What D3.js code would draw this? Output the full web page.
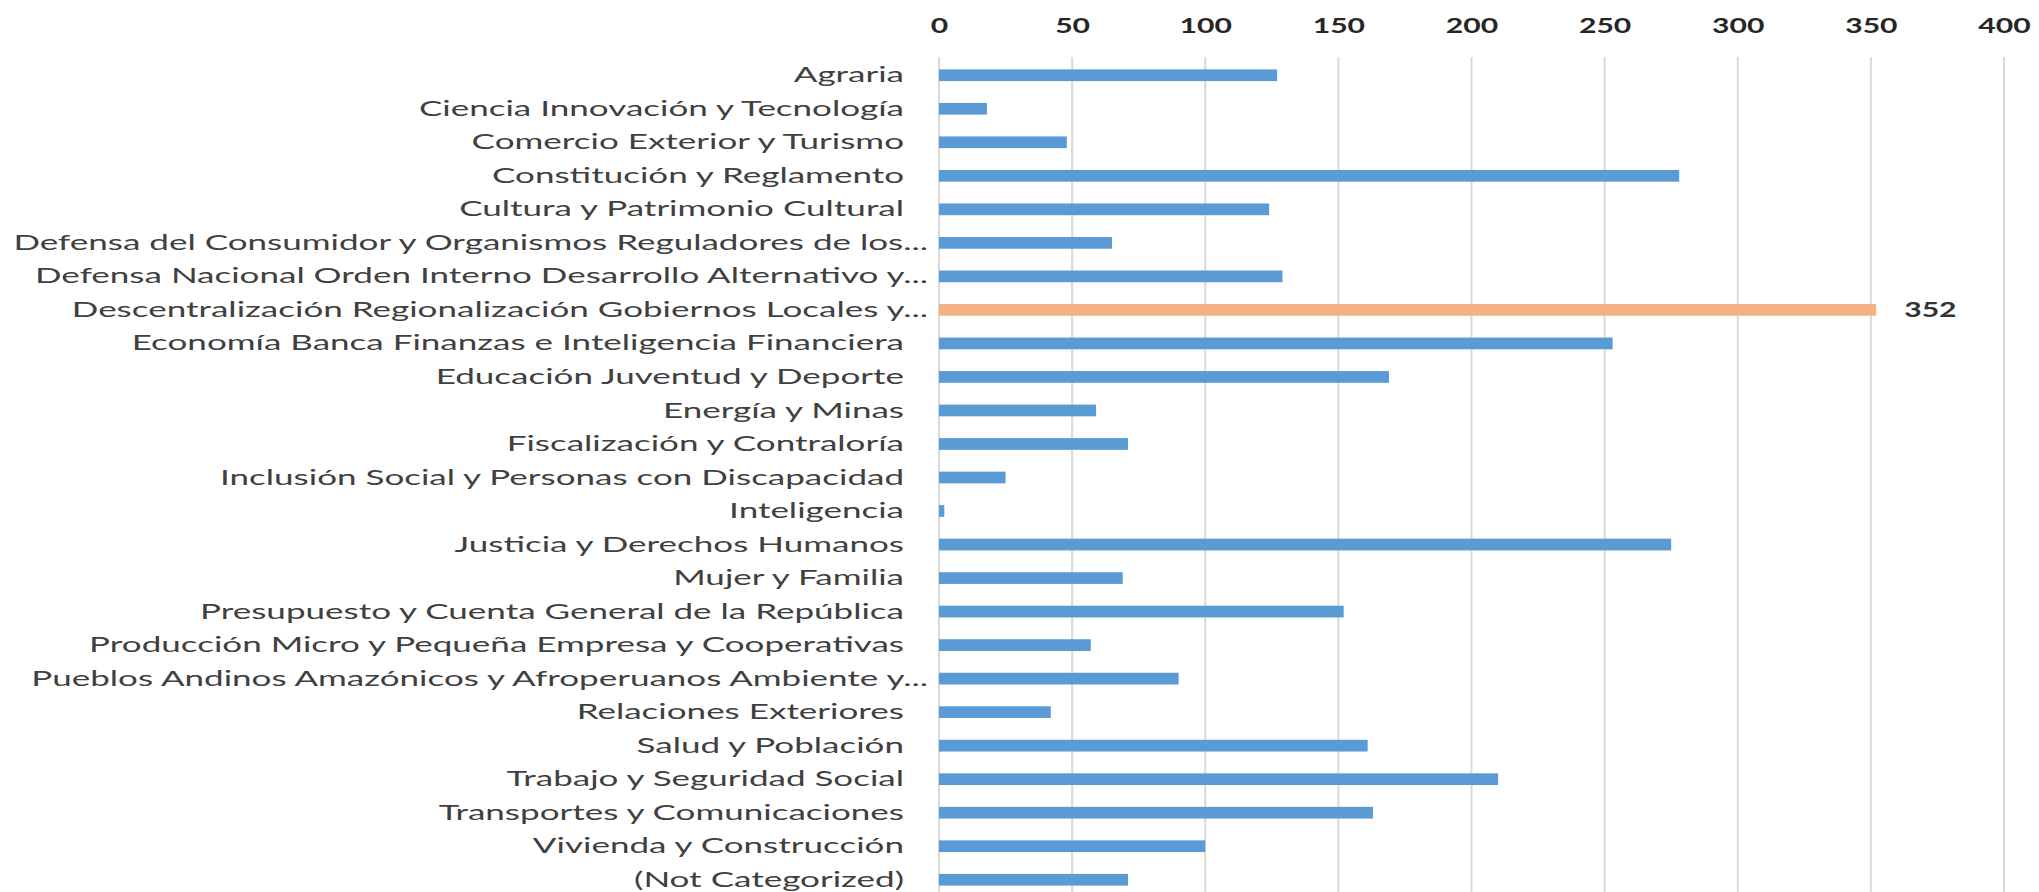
<!DOCTYPE html>
<html>
<head>
<meta charset="utf-8">
<script src="https://cdn.jsdelivr.net/npm/d3@7"></script>
<style>
  html, body { margin: 0; padding: 0; background: #fff; }
  svg { display: block; }
</style>
</head>
<body>
<div id="chart"></div>
<script>
const categories = [
  'Agraria',
  'Ciencia Innovación y Tecnología',
  'Comercio Exterior y Turismo',
  'Constitución y Reglamento',
  'Cultura y Patrimonio Cultural',
  'Defensa del Consumidor y Organismos Reguladores de los...',
  'Defensa Nacional Orden Interno Desarrollo Alternativo y...',
  'Descentralización Regionalización Gobiernos Locales y...',
  'Economía Banca Finanzas e Inteligencia Financiera',
  'Educación Juventud y Deporte',
  'Energía y Minas',
  'Fiscalización y Contraloría',
  'Inclusión Social y Personas con Discapacidad',
  'Inteligencia',
  'Justicia y Derechos Humanos',
  'Mujer y Familia',
  'Presupuesto y Cuenta General de la República',
  'Producción Micro y Pequeña Empresa y Cooperativas',
  'Pueblos Andinos Amazónicos y Afroperuanos Ambiente y...',
  'Relaciones Exteriores',
  'Salud y Población',
  'Trabajo y Seguridad Social',
  'Transportes y Comunicaciones',
  'Vivienda y Construcción',
  '(Not Categorized)'
];
const values = [127, 18, 48, 278, 124, 65, 129, 352, 253, 169, 59, 71, 25, 2, 275, 69, 152, 57, 90, 42, 161, 210, 163, 100, 71];
const highlighted = ['Descentralización Regionalización Gobiernos Locales y...'];
const xTicks = [0, 50, 100, 150, 200, 250, 300, 350, 400];

const width = 2039;
const height = 892;

const data = categories.map((c, i) => ({ name: c, value: values[i] }));

const svg = d3.select('#chart')
  .append('svg')
  .attr('width', width)
  .attr('height', height);

const x = d3.scaleLinear()
  .domain([0, 400])
  .range([939, 2004]);

const y = d3.scaleBand()
  .domain(categories)
  .range([58.5, 896.5])
  .paddingInner(0.65)
  .paddingOuter(0.325);

// the picture is stretched sideways, so text gets a horizontal scale
const probe = svg.append('text')
  .attr('font-family', 'Lato, "Open Sans", sans-serif')
  .attr('font-size', 22)
  .text(categories[5]);
const sx = 915 / probe.node().getComputedTextLength();
probe.remove();
const sxNum = sx * 0.9;

// gridlines
svg.append('g')
  .selectAll('line')
  .data(xTicks)
  .join('line')
    .attr('x1', d => x(d))
    .attr('x2', d => x(d))
    .attr('y1', 57)
    .attr('y2', height)
    .attr('stroke', '#d9d9d9')
    .attr('stroke-width', 2);

// bars
svg.append('g')
  .selectAll('rect')
  .data(data)
  .join('rect')
    .attr('x', x(0))
    .attr('y', d => y(d.name))
    .attr('width', d => x(d.value) - x(0))
    .attr('height', y.bandwidth())
    .attr('fill', d => highlighted.includes(d.name) ? '#f4b183' : '#5b9bd5');

// value label on highlighted bar
svg.append('g')
  .selectAll('g')
  .data(data.filter(d => highlighted.includes(d.name)))
  .join('g')
    .attr('transform', d => `translate(${x(d.value) + 28},${y(d.name) + y.bandwidth() / 2})`)
  .append('text')
    .attr('transform', `scale(${sxNum},1)`)
    .attr('dy', '0.36em')
    .attr('font-family', 'Lato, "Open Sans", sans-serif')
    .attr('font-size', 21)
    .attr('font-weight', 'bold')
    .attr('fill', '#333')
    .text(d => d.value);

// top axis
svg.append('g')
  .attr('transform', 'translate(0,33)')
  .call(d3.axisTop(x).tickValues(xTicks).tickSize(0).tickPadding(0))
  .call(g => g.select('.domain').remove())
  .call(g => g.selectAll('text')
    .attr('transform', `scale(${sxNum},1)`)
    .attr('font-family', 'Lato, "Open Sans", sans-serif')
    .attr('font-size', 21)
    .attr('font-weight', 'bold')
    .attr('fill', '#262626'));

// category axis
svg.append('g')
  .attr('transform', `translate(${x(0)},0)`)
  .call(d3.axisLeft(y).tickSize(0))
  .call(g => g.select('.domain').remove())
  .call(g => g.selectAll('text')
    .attr('x', d => -(d.endsWith('...') ? 11 : 35) / sx)
    .attr('transform', `scale(${sx},1)`)
    .attr('font-family', 'Lato, "Open Sans", sans-serif')
    .attr('font-size', 22)
    .attr('fill', '#404040'));
</script>
</body>
</html>
